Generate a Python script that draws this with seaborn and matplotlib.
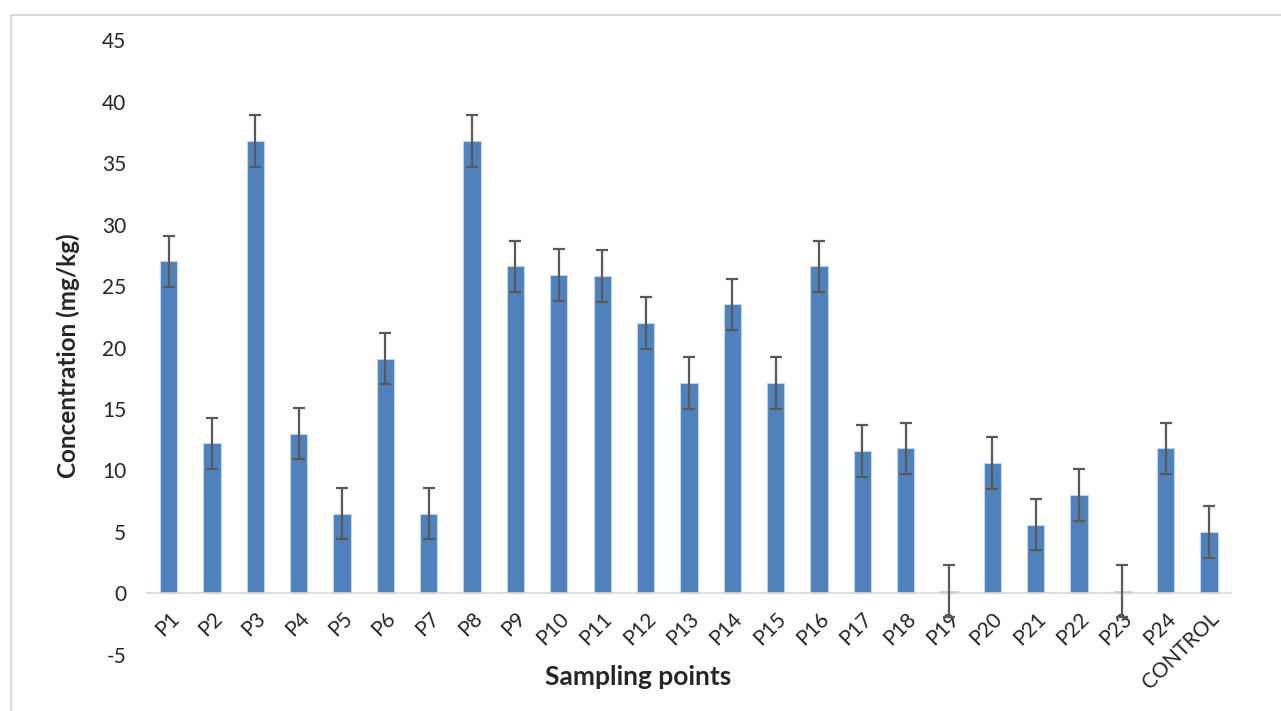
import matplotlib
matplotlib.use("Agg")
import matplotlib.pyplot as plt
import seaborn as sns
import pandas as pd
from matplotlib.patches import Rectangle

points = ["P1", "P2", "P3", "P4", "P5", "P6", "P7", "P8", "P9", "P10", "P11", "P12",
          "P13", "P14", "P15", "P16", "P17", "P18", "P19", "P20", "P21", "P22", "P23",
          "P24", "CONTROL"]
concentration = [27.0, 12.2, 36.8, 13.0, 6.5, 19.1, 6.5, 36.8, 26.6, 25.9, 25.8, 22.0,
                 17.1, 23.5, 17.1, 26.6, 11.6, 11.8, 0.2, 10.6, 5.6, 8.0, 0.2,
                 11.8, 5.0]
errors = [2.1] * 25

sns.set_style("white")
plt.rcParams['font.family'] = ['Lato', 'DejaVu Sans']
plt.rcParams['axes.unicode_minus'] = False

df = pd.DataFrame({"point": points, "conc": concentration})

fig = plt.figure(figsize=(12.81, 7.11), dpi=100)
ax = fig.add_axes([0.1148, 0.0788, 0.8459, 0.8649])

sns.barplot(data=df, x="point", y="conc", color="#4F81BD", saturation=1,
            width=0.4, edgecolor="#C5D5EA", linewidth=0.8, ax=ax)
ax.errorbar(range(len(points)), concentration, yerr=errors, fmt="none",
            ecolor="#595959", elinewidth=1.6, capsize=4, capthick=1.6, zorder=3)

ax.set_ylim(-5, 45)
ax.set_xlim(-0.5, len(points) - 0.5)
ax.set_yticks(range(-5, 46, 5))
ax.tick_params(axis="y", length=0, labelsize=15, pad=15)
ax.tick_params(axis="x", length=0, labelsize=15, pad=11)

for s in ["top", "right", "left"]:
    ax.spines[s].set_visible(False)
ax.spines["bottom"].set_position(("data", 0))
ax.spines["bottom"].set_color("#D9D9D9")
ax.spines["bottom"].set_linewidth(1.2)

ax.set_xticks(range(len(points)))
ax.set_xticklabels(points, rotation=45, ha="right", rotation_mode="anchor")

ax.set_xlabel("")
ax.set_ylabel("")
fig.text(0.498, 0.048, "Sampling points", ha="center", va="center",
         fontsize=19, fontweight="bold")
fig.text(0.053, 0.50, "Concentration (mg/kg)", ha="center", va="center",
         rotation=90, fontsize=17.5, fontweight="bold")

# light frame around the chart area
fig.patches.append(Rectangle((10.5 / 1281, -0.1), 1.2, 1 - 14.5 / 711 + 0.1,
                             transform=fig.transFigure, fill=False,
                             edgecolor="#D9D9D9", linewidth=1.5))

fig.savefig("out.png", dpi=100)
